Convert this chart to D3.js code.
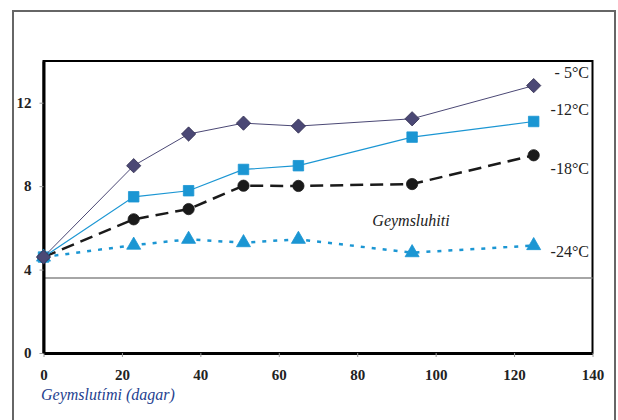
<!DOCTYPE html>
<html>
<head>
<meta charset="utf-8">
<script src="https://cdn.jsdelivr.net/npm/d3@7"></script>
<style>
  body { margin: 0; background: #fff; }
  svg text { font-family: "Times New Roman", "Liberation Serif", "DejaVu Serif", serif; }
</style>
</head>
<body>
<div id="chart"></div>
<script>
// storage days
var days = [0, 23, 37, 51, 65, 94, 125];

// series values, one array per storage temperature
var minus5  = [4.6, 8.98, 10.5, 11.02, 10.88, 11.23, 12.82];
var minus12 = [4.6, 7.49, 7.78, 8.8, 8.98, 10.35, 11.1];
var minus18 = [4.6, 6.41, 6.9, 8.02, 8.01, 8.1, 9.48];
var minus24 = [4.6, 5.17, 5.45, 5.29, 5.45, 4.81, 5.15];

var seriesNames = ["- 5°C", "-12°C", "-18°C", "-24°C"];
var xTicks = [0, 20, 40, 60, 80, 100, 120, 140];
var yTicks = [0, 4, 8, 12];
var refLine = 3.6;

var serif = "'Times New Roman', 'Liberation Serif', 'DejaVu Serif', serif";

var width = 618, height = 420;
var margin = {left: 43.5, right: 25.5, top: 61, bottom: 67};

var svg = d3.select("#chart").append("svg")
    .attr("width", width)
    .attr("height", height);

// outer frame
svg.append("path")
    .attr("d", "M13,430 V11 H615 V430")
    .attr("fill", "none")
    .attr("stroke", "#666")
    .attr("stroke-width", 2);

var x = d3.scaleLinear().domain([0, 140]).range([margin.left, width - margin.right]);
var y = d3.scaleLinear().domain([0, 14]).range([height - margin.bottom, margin.top]);

// plot frame
svg.append("rect")
    .attr("x", x(0))
    .attr("y", y(14))
    .attr("width", x(140) - x(0))
    .attr("height", y(0) - y(14))
    .attr("fill", "none")
    .attr("stroke", "#000")
    .attr("stroke-width", 2);

// reference line
svg.append("line")
    .attr("x1", x(0)).attr("x2", x(140))
    .attr("y1", y(refLine)).attr("y2", y(refLine))
    .attr("stroke", "#888")
    .attr("stroke-width", 1.5);

var xAxis = svg.append("g")
    .attr("transform", "translate(0," + y(0) + ")")
    .call(d3.axisBottom(x).tickValues(xTicks).tickSize(4).tickSizeOuter(0).tickPadding(12));

var yAxis = svg.append("g")
    .attr("transform", "translate(" + x(0) + ",0)")
    .call(d3.axisLeft(y).tickValues(yTicks).tickSize(4).tickSizeOuter(0).tickPadding(8));

[xAxis, yAxis].forEach(function(g) {
  g.attr("font-family", serif);
  g.select(".domain").attr("stroke", "#000").attr("stroke-width", 3);
  g.selectAll(".tick line").attr("stroke", "#999");
  g.selectAll(".tick text")
      .attr("fill", "#222")
      .style("font-size", "15px")
      .style("font-weight", "bold")
      .style("font-family", serif);
});

var series = [
  {name: seriesNames[0], values: minus5,  color: "#4b4875", width: 1,   dash: null,  marker: d3.symbolDiamond2, size: 130, stroke: "#2e2b4d", ly: 78},
  {name: seriesNames[1], values: minus12, color: "#1b96d3", width: 1.2, dash: null,  marker: d3.symbolSquare,   size: 110, stroke: "#1b96d3", ly: 115},
  {name: seriesNames[2], values: minus18, color: "#1a1a1a", width: 2.5, dash: "13,7", marker: d3.symbolCircle,  size: 100, stroke: "#1a1a1a", ly: 174},
  {name: seriesNames[3], values: minus24, color: "#1b96d3", width: 2.5, dash: "4,7", marker: d3.symbolTriangle, size: 85,  stroke: "#1b96d3", ly: 257}
];

var line = d3.line()
    .x(function(d) { return x(d[0]); })
    .y(function(d) { return y(d[1]); });

// draw bottom series first so -5 sits on top
series.slice().reverse().forEach(function(s) {
  var pts = days.map(function(d, i) { return [d, s.values[i]]; });

  svg.append("path")
      .datum(pts)
      .attr("d", line)
      .attr("fill", "none")
      .attr("stroke", s.color)
      .attr("stroke-width", s.width)
      .attr("stroke-dasharray", s.dash);

  svg.append("g").selectAll("path")
      .data(pts)
      .enter().append("path")
      .attr("transform", function(d) { return "translate(" + x(d[0]) + "," + y(d[1]) + ")"; })
      .attr("d", d3.symbol().type(s.marker).size(s.size))
      .attr("fill", s.color)
      .attr("stroke", s.stroke)
      .attr("stroke-width", 0.8);
});

// series labels at right
svg.append("g").selectAll("text")
    .data(series)
    .enter().append("text")
    .attr("x", 589)
    .attr("y", function(d) { return d.ly; })
    .attr("text-anchor", "end")
    .attr("fill", "#222")
    .style("font-family", serif)
    .style("font-size", "16px")
    .text(function(d) { return d.name; });

svg.append("text")
    .attr("x", 411)
    .attr("y", 226)
    .attr("text-anchor", "middle")
    .attr("fill", "#222")
    .style("font-family", serif)
    .style("font-size", "16px")
    .style("font-style", "italic")
    .text("Geymsluhiti");

svg.append("text")
    .attr("x", 41)
    .attr("y", 400)
    .attr("fill", "#1f3f8f")
    .style("font-family", serif)
    .style("font-size", "16px")
    .style("font-style", "italic")
    .text("Geymslutími (dagar)");
</script>
</body>
</html>
